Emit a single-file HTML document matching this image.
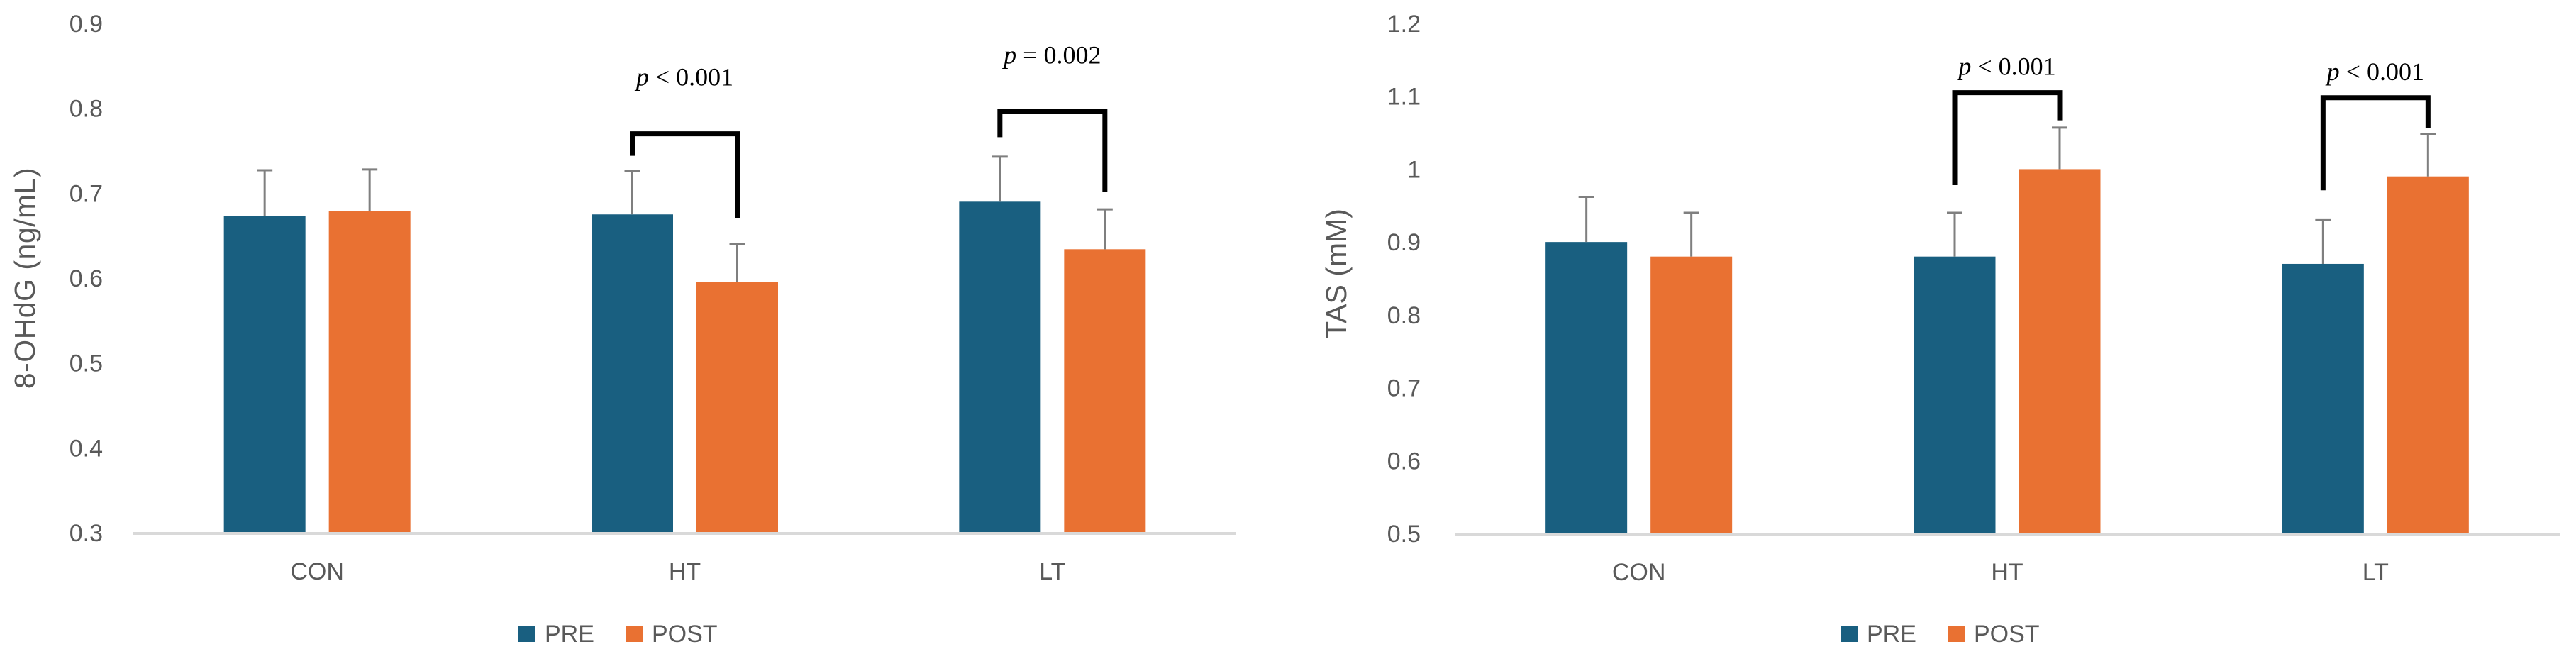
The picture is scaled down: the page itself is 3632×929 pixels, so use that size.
<!DOCTYPE html>
<html><head><meta charset="utf-8"><style>
html,body{margin:0;padding:0;background:#fff;width:3632px;height:929px;overflow:hidden}
svg{display:block}
</style></head><body>
<svg id="c" width="3632" height="929" viewBox="0 0 3632 929" xmlns="http://www.w3.org/2000/svg" font-family="'Liberation Sans', sans-serif"></svg>
<script>
const categories = ["CON", "HT", "LT"];
const seriesNames = ["PRE", "POST"];
const ohdgPre = [0.673, 0.675, 0.690];
const ohdgPost = [0.679, 0.595, 0.634];
const ohdgPreErr = [0.054, 0.051, 0.053];
const ohdgPostErr = [0.049, 0.045, 0.047];
const ohdgTicks = ["0.3", "0.4", "0.5", "0.6", "0.7", "0.8", "0.9"];
const ohdgP = ["", "p < 0.001", "p = 0.002"];
const ohdgBrTop = [null, 0.770, 0.796];
const ohdgBrLeft = [null, 0.744, 0.766];
const ohdgBrRight = [null, 0.671, 0.702];
const tasPre = [0.90, 0.88, 0.87];
const tasPost = [0.88, 1.00, 0.99];
const tasPreErr = [0.062, 0.06, 0.06];
const tasPostErr = [0.06, 0.057, 0.058];
const tasTicks = ["0.5", "0.6", "0.7", "0.8", "0.9", "1", "1.1", "1.2"];
const tasP = ["", "p < 0.001", "p < 0.001"];
const tasBrTop = [null, 1.105, 1.098];
const tasBrLeft = [null, 0.978, 0.971];
const tasBrRight = [null, 1.067, 1.056];

const NS = "http://www.w3.org/2000/svg";
const svg = document.getElementById('c');
function mk(tag, attrs, parent) {
  const e = document.createElementNS(NS, tag);
  for (const k in attrs) e.setAttribute(k, attrs[k]);
  (parent || svg).appendChild(e);
  return e;
}
const BLUE = "#195f80", ORANGE = "#e97132";

function chart(cfg) {
  const g = mk('g', {});
  
  
  const ticks = cfg.ticks.map(Number);
  const vmin = ticks[0], vmax = ticks[ticks.length - 1];
  const y = v => cfg.y0 + (v - vmin) / (vmax - vmin) * (cfg.yTop - cfg.y0);
  const cw = (cfg.x1 - cfg.x0) / categories.length;
  const cx = i => cfg.x0 + cw * (i + 0.5);
  const bw = 115, off = 74;
  cfg.ticks.forEach((t) => {
    const tx = mk('text', {x: cfg.tickX, y: y(Number(t)) + 12, 'text-anchor': 'end', 'font-size': 34, fill: '#595959'}, g);
    
    
    tx.textContent = t;
  });
  const yt = mk('text', {x: 0, y: 0, 'text-anchor': 'middle', 'font-size': 41, 'letter-spacing': cfg.titleSpacing, fill: '#595959', transform: `translate(${cfg.titleX},${cfg.titleY}) rotate(-90)`}, g);
  
  
  yt.textContent = cfg.title;
  const series = [[cfg.pre, cfg.preErr, BLUE, -off], [cfg.post, cfg.postErr, ORANGE, off]];
  categories.forEach((c, i) => {
    series.forEach((s, si) => {
      const v = s[0][i], e = s[1][i], bx = cx(i) + s[3];
      const r = mk('rect', {x: bx - bw / 2, y: y(v), width: bw, height: y(vmin) - y(v), fill: s[2]}, g);
      
      
      const eb = mk('path', {d: `M${bx},${y(v)}V${y(v + e)}M${bx - 11},${y(v + e)}H${bx + 11}`, stroke: '#7f7f7f', 'stroke-width': 3, fill: 'none'}, g);
      
      
    });
    const lt = mk('text', {x: cx(i), y: cfg.y0 + 66, 'text-anchor': 'middle', 'font-size': 34, fill: '#595959'}, g);
    
    
    lt.textContent = c;
    if (cfg.brTop[i] != null) {
      const lx = cx(i) - off, rx = cx(i) + off;
      const br = mk('path', {d: `M${lx},${y(cfg.brLeft[i])}V${y(cfg.brTop[i])}H${rx}V${y(cfg.brRight[i])}`, stroke: '#000', 'stroke-width': 7, fill: 'none'}, g);
      
      
      const parts = cfg.p[i].split(' ');
      const pt = mk('text', {x: cx(i), y: y(cfg.brTop[i]) - cfg.pGap, 'text-anchor': 'middle', 'font-size': 36, 'font-family': "'Liberation Serif', serif", fill: '#000'}, g);
      
      
      const ts = mk('tspan', {'font-style': 'italic'}, pt);
      ts.textContent = parts[0];
      const ts2 = mk('tspan', {}, pt);
      ts2.textContent = ' ' + parts.slice(1).join(' ');
    }
  });
  const ax = mk('line', {x1: cfg.x0, x2: cfg.x1, y1: y(vmin) + 1, y2: y(vmin) + 1, stroke: '#d9d9d9', 'stroke-width': 4}, g);
  
  
  [[cfg.legX, BLUE, seriesNames[0]], [cfg.legX + 151, ORANGE, seriesNames[1]]].forEach(l => {
    const sq = mk('rect', {x: l[0], y: 882, width: 24, height: 23, fill: l[1]}, g);
    
    
    const t = mk('text', {x: l[0] + 37, y: 905, 'font-size': 34, fill: '#595959'}, g);
    
    
    t.textContent = l[2];
  });
}

chart({name: 'ohdg-chart', ticks: ohdgTicks, y0: 751, yTop: 33, x0: 188, x1: 1743, tickX: 145,
  title: '8-OHdG (ng/mL)', titleX: 49, titleY: 392, titleSpacing: 0.5,
  pre: ohdgPre, post: ohdgPost, preErr: ohdgPreErr, postErr: ohdgPostErr,
  p: ohdgP, brTop: ohdgBrTop, brLeft: ohdgBrLeft, brRight: ohdgBrRight, pGap: 68, legX: 731});
chart({name: 'tas-chart', ticks: tasTicks, y0: 752, yTop: 33, x0: 2051, x1: 3609, tickX: 2003,
  title: 'TAS (mM)', titleX: 1898, titleY: 386, titleSpacing: 0,
  pre: tasPre, post: tasPost, preErr: tasPreErr, postErr: tasPostErr,
  p: tasP, brTop: tasBrTop, brLeft: tasBrLeft, brRight: tasBrRight, pGap: 25, legX: 2595});
</script>
</body></html>
